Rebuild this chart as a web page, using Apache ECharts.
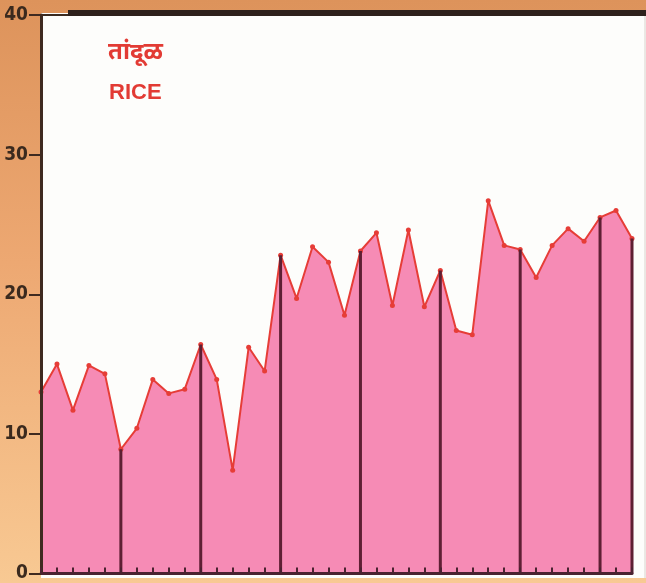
<!DOCTYPE html>
<html>
<head>
<meta charset="utf-8">
<script src="https://cdn.jsdelivr.net/npm/echarts@6/dist/echarts.min.js"></script>
<style>
  html, body { margin: 0; padding: 0; }
  #main {
    width: 646px;
    height: 583px;
    background: linear-gradient(to bottom, #dd935b 0%, #eda872 45%, #f8c993 100%);
  }
</style>
</head>
<body>
<div id="main"></div>
<script>
// 38 points, one per tick; drop lines every 5th point and at the last one
const categories = [];
for (let i = 1; i <= 38; i++) categories.push(String(i));

const rice = [
  13.0, 15.0, 11.7, 14.9, 14.3, 8.9, 10.4, 13.9, 12.9, 13.2,
  16.4, 13.9, 7.4, 16.2, 14.5, 22.8, 19.7, 23.4, 22.3, 18.5,
  23.1, 24.4, 19.2, 24.6, 19.1, 21.7, 17.4, 17.1, 26.7, 23.5,
  23.2, 21.2, 23.5, 24.7, 23.8, 25.5, 26.0, 24.0
];

const dropIdx = [5, 10, 15, 20, 25, 30, 35, 37];
const yTicks = [0, 10, 20, 30, 40];

const titleMr = "तांदूळ";
const titleEn = "RICE";

const drops = rice.map((v, i) => (dropIdx.includes(i) ? v : "-"));

var myChart = echarts.init(document.getElementById("main"));
myChart.setOption({
  animation: false,
  graphic: [
    // white plot paper
    { type: "rect", z: -10, shape: { x: 41, y: 13, width: 605, height: 565 }, style: { fill: "#fdfdfb" } },
    // top frame
    { type: "line", z: 10, shape: { x1: 68, y1: 13, x2: 646, y2: 13 }, style: { stroke: "#2e211c", lineWidth: 6 } },
    { type: "line", z: 10, shape: { x1: 41, y1: 15, x2: 68, y2: 15 }, style: { stroke: "#3a2a20", lineWidth: 2 } },
    { type: "line", z: 10, shape: { x1: 645, y1: 16, x2: 645, y2: 578 }, style: { stroke: "#d8d2cc", lineWidth: 1 } },
    {
      type: "text", left: 108, top: 40,
      style: { text: titleMr, fill: "#e23b34", font: "bold 24px 'Noto Sans', sans-serif" }
    },
    {
      type: "text", left: 109, top: 82,
      style: { text: titleEn, fill: "#e23b34", font: "bold 22px Arial, 'Liberation Sans', sans-serif" }
    }
  ],
  grid: { left: 41, right: 14, top: 15, bottom: 5, containLabel: false },
  xAxis: {
    type: "category",
    data: categories,
    boundaryGap: false,
    z: 10,
    axisLine: { lineStyle: { color: "#4a2230", width: 3 } },
    axisTick: { inside: true, length: 6, interval: 0, lineStyle: { color: "#4a2230", width: 2 } },
    axisLabel: { show: false },
    splitLine: { show: false }
  },
  yAxis: {
    type: "value",
    min: yTicks[0],
    max: yTicks[yTicks.length - 1],
    interval: 10,
    z: 10,
    axisLine: { show: true, lineStyle: { color: "#3f2a20", width: 3 } },
    axisTick: { show: true, length: 12, lineStyle: { color: "#3f2a20", width: 2 } },
    axisLabel: {
      margin: 13,
      color: "#3b2a1e",
      fontWeight: "bold",
      fontSize: 19,
      fontFamily: "'DejaVu Sans Condensed', 'Liberation Sans Narrow', sans-serif"
    },
    splitLine: { show: false }
  },
  series: [
    {
      type: "line",
      data: rice,
      symbol: "circle",
      symbolSize: 5,
      itemStyle: { color: "#e63d37" },
      lineStyle: { color: "#e63d37", width: 2 },
      areaStyle: { color: "#f68bb5", opacity: 1 },
      z: 2
    },
    {
      type: "bar",
      data: drops,
      barWidth: 3,
      barGap: "-100%",
      itemStyle: { color: "#5e1f33" },
      z: 3
    }
  ]
});
</script>
</body>
</html>
